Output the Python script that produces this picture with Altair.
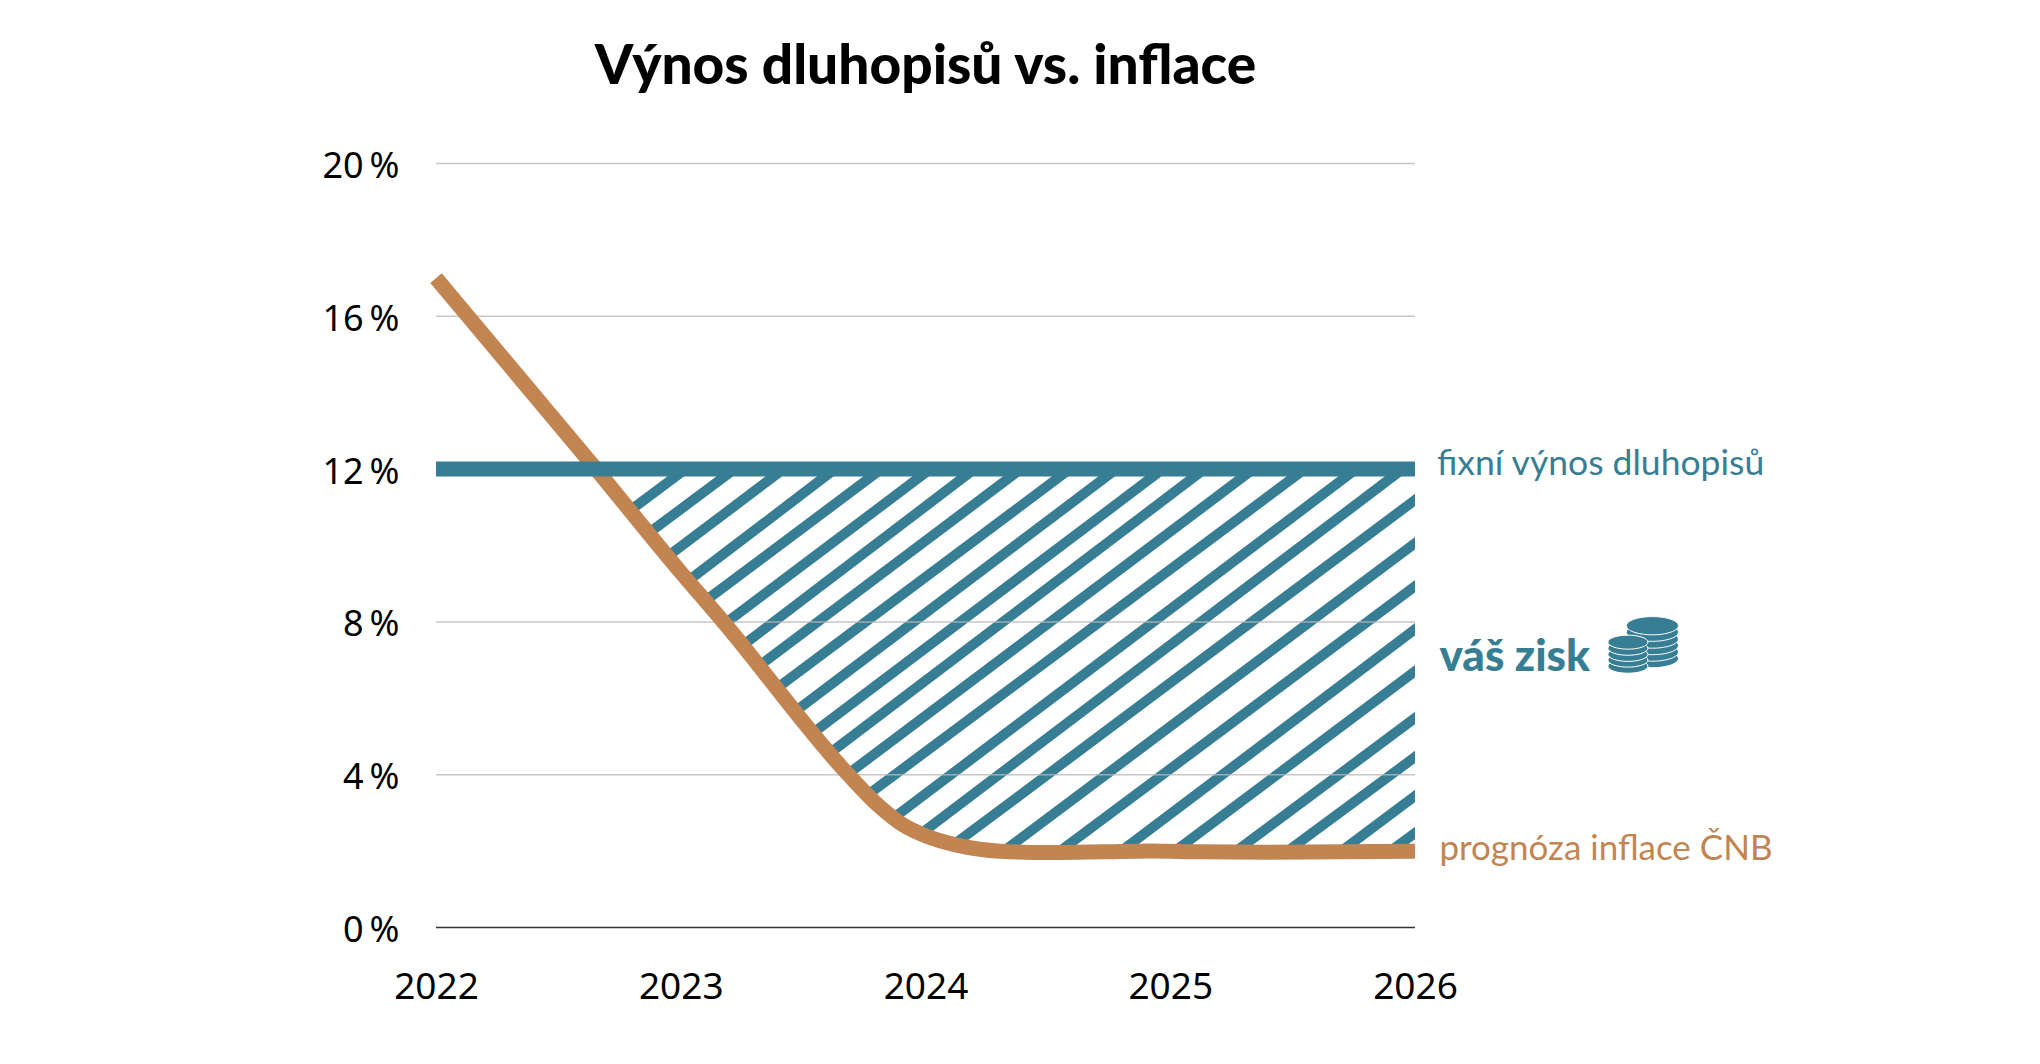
import altair as alt
import pandas as pd

TEAL = "#377D94"
BROWN = "#C28552"
LABEL_FONT = "Lato"
AXIS_FONT = "Noto Sans"

x_ticks = [2022, 2023, 2024, 2025, 2026]
y_ticks = [0, 4, 8, 12, 16, 20]
grid_values = [4, 8, 12, 16, 20]
baseline_values = [0]

inflation_x = [2022.0, 2022.654, 2023.0, 2023.174, 2023.685, 2023.814, 2023.91, 2024.0, 2024.128,
               2024.305, 2024.509, 2024.714, 2024.918, 2025.122, 2025.4, 2025.7, 2026.0]
inflation_y = [17.0, 12.0, 9.3, 8.0, 4.0, 3.157, 2.678, 2.40, 2.155,
               1.997, 1.963, 1.98, 2.005, 1.98, 1.97, 1.98, 2.0]
yield_x = [2022, 2026]
yield_y = [12, 12]

stripe_low_x = [2022.794, 2022.874, 2022.954, 2023.044, 2023.104, 2023.184, 2023.254, 2023.314, 2023.394,
                2023.474, 2023.544, 2023.614, 2023.694, 2023.774, 2023.884, 2023.984, 2024.124, 2024.324,
                2024.554, 2024.804, 2025.024, 2025.274, 2025.484, 2025.704, 2025.904]
stripe_low_y = [10.92, 10.35, 9.75, 9.14, 8.57, 7.97, 7.39, 6.82, 6.27,
                5.69, 5.11, 4.59, 4.07, 3.52, 2.94, 2.47, 2.21, 2.02,
                2.02, 2.02, 2.02, 2.02, 2.02, 2.02, 2.02]
stripe_high_x = [2023.02, 2023.22, 2023.42, 2023.63, 2023.82, 2024.02, 2024.20, 2024.39, 2024.59,
                 2024.78, 2024.97, 2025.14, 2025.34, 2025.55, 2025.76, 2025.95,
                 2026.05, 2026.05, 2026.05, 2026.05, 2026.05, 2026.05, 2026.05, 2026.05, 2026.05]
stripe_high_y = [12, 12, 12, 12, 12, 12, 12, 12, 12,
                 12, 12, 12, 12, 12, 12, 12,
                 11.43, 10.30, 9.17, 8.05, 6.95, 5.72, 4.70, 3.68, 2.71]

coin_big_y = [7.04, 7.21, 7.38, 7.55, 7.73, 7.90]
coin_small_y = [6.84, 7.00, 7.15, 7.31, 7.47]
coin_big_x = 2026.97
coin_small_x = 2026.87

title_text = "Výnos dluhopisů vs. inflace"
label_texts = ["fixní výnos dluhopisů", "váš zisk", "prognóza inflace ČNB"]
label_x = [2026.09, 2026.10, 2026.10]
label_y = [11.84, 6.72, 1.76]

x_scale = alt.Scale(domain=[2022, 2026], nice=False, zero=False)
y_scale = alt.Scale(domain=[0, 20], nice=False, zero=False)

x_axis = alt.Axis(values=x_ticks, format="d", title=None, domain=False, ticks=False, grid=False,
                  labelFont=AXIS_FONT, labelFontSize=37, labelColor="#000000", labelPadding=42,
                  labelFlush=False, labelOverlap=False)
y_axis = alt.Axis(values=y_ticks, labelExpr="datum.value + '\u2009%'", title=None, domain=False, ticks=False,
                  grid=False, labelFont=AXIS_FONT, labelFontSize=36, labelColor="#000000",
                  labelPadding=37, labelOffset=3)

X = lambda: alt.X("x:Q", scale=x_scale, axis=x_axis)
Y = lambda: alt.Y("y:Q", scale=y_scale, axis=y_axis)

stripes = pd.DataFrame(
    [{"stripe": i, "x": a, "y": b} for i, (a, b) in enumerate(zip(stripe_low_x, stripe_low_y))]
    + [{"stripe": i, "x": a, "y": b} for i, (a, b) in enumerate(zip(stripe_high_x, stripe_high_y))]
)
stripe_layer = alt.Chart(stripes).mark_line(clip=True, strokeWidth=10, color=TEAL).encode(
    x=X(), y=Y(), detail="stripe:N"
)

grid_layer = alt.Chart(pd.DataFrame({"y": grid_values})).mark_rule(
    color="#b8b8b8", strokeWidth=1.5, opacity=0.8
).encode(y=Y())
base_layer = alt.Chart(pd.DataFrame({"y": baseline_values})).mark_rule(
    color="#333333", strokeWidth=1.5
).encode(y=Y())

brown_layer = alt.Chart(pd.DataFrame({"x": inflation_x, "y": inflation_y})).mark_line(
    color=BROWN, strokeWidth=15, interpolate="monotone"
).encode(x=X(), y=Y())
blue_layer = alt.Chart(pd.DataFrame({"x": yield_x, "y": yield_y})).mark_line(
    color=TEAL, strokeWidth=15
).encode(x=X(), y=Y())

COIN = "M-1,0A1,0.35 0 1,1 1,0A1,0.35 0 1,1 -1,0Z"
big = alt.Chart(pd.DataFrame({"x": [coin_big_x] * len(coin_big_y), "y": coin_big_y})).mark_point(
    shape=COIN, size=2704, filled=True, fill=TEAL, stroke="#ffffff", strokeWidth=1, opacity=1
).encode(x=X(), y=Y())
small = alt.Chart(pd.DataFrame({"x": [coin_small_x] * len(coin_small_y), "y": coin_small_y})).mark_point(
    shape=COIN, size=1600, filled=True, fill=TEAL, stroke="#ffffff", strokeWidth=1, opacity=1
).encode(x=X(), y=Y())

labels = pd.DataFrame({"x": label_x, "y": label_y, "t": label_texts})
text_kw = dict(font=LABEL_FONT, align="left", baseline="alphabetic")
txt_a = alt.Chart(labels.iloc[[0]]).mark_text(fontSize=35.5, color=TEAL, **text_kw).encode(x=X(), y=Y(), text="t:N")
txt_b = alt.Chart(labels.iloc[[1]]).mark_text(fontSize=44, fontWeight=900, color=TEAL, **text_kw).encode(x=X(), y=Y(), text="t:N")
txt_c = alt.Chart(labels.iloc[[2]]).mark_text(fontSize=35, color=BROWN, **text_kw).encode(x=X(), y=Y(), text="t:N")

chart = alt.layer(
    stripe_layer, grid_layer, base_layer, brown_layer, blue_layer, big, small, txt_a, txt_b, txt_c
).properties(
    width=979,
    height=764,
    autosize="none",
    padding={"left": 428, "top": 155.5, "right": 600, "bottom": 130},
    background="#ffffff",
    title=alt.TitleParams(
        text=title_text, font=LABEL_FONT, fontSize=55, fontWeight=900, color="#000000",
        anchor="middle", offset=10, baseline="alphabetic",
    ),
).configure_view(stroke=None)

chart.save("out.html", embed_options={"renderer": "svg", "actions": False})
